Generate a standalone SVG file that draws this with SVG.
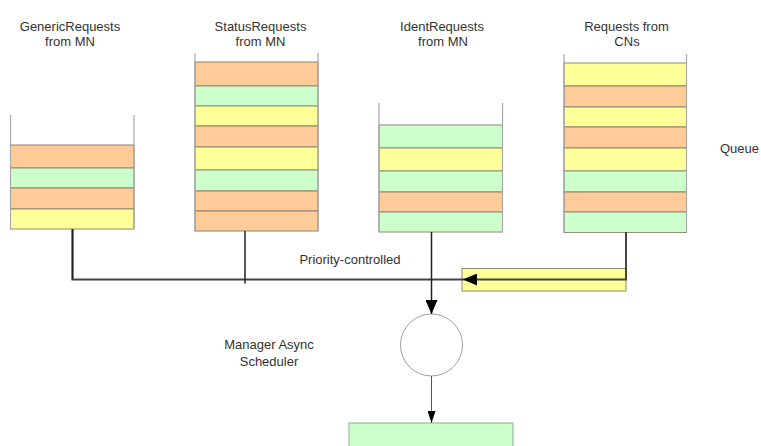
<svg xmlns="http://www.w3.org/2000/svg" width="761" height="446" viewBox="0 0 761 446">
  <style>
    .t { font-family: "Liberation Sans", Arial, sans-serif; font-size: 13px; fill: #333; }
    .wall { stroke: #a8a8a8; stroke-width: 1.2; fill: none; }
    .o { fill: #FFCC99; stroke: #8c8070; stroke-width: 1; }
    .g { fill: #CCFFCC; stroke: #8c8c80; stroke-width: 1; }
    .y { fill: #FFFF99; stroke: #8c8c70; stroke-width: 1; }
    .conn { stroke: #222; stroke-width: 1.5; fill: none; }
    .bus { stroke: #444; stroke-width: 2; fill: none; }
    .thin { stroke: #555; stroke-width: 1; fill: none; }
  </style>
  <defs>
    <marker id="ah" markerUnits="userSpaceOnUse" markerWidth="14" markerHeight="12" viewBox="0 0 14 12" refX="14" refY="6" orient="auto">
      <path d="M0,0 L14,6 L0,12 Z" fill="#000"/>
    </marker>
    <marker id="ahs" markerUnits="userSpaceOnUse" markerWidth="12" markerHeight="8" viewBox="0 0 12 8" refX="12" refY="4" orient="auto">
      <path d="M0,0 L12,4 L0,8 Z" fill="#000"/>
    </marker>
  </defs>
  <rect width="761" height="446" fill="#fff"/>

  <g id="queue-generic">
    <text class="t" x="70" y="30.5" text-anchor="middle">GenericRequests</text>
    <text class="t" x="70" y="46" text-anchor="middle">from MN</text>
    <rect class="o" x="10.5" y="145" width="123.5" height="23"/>
    <rect class="g" x="10.5" y="168" width="123.5" height="20"/>
    <rect class="o" x="10.5" y="188" width="123.5" height="21"/>
    <rect class="y" x="10.5" y="209" width="123.5" height="20"/>
    <path class="wall" d="M10.5,115 V229 M134,115 V229"/>
  </g>

  <g id="queue-status">
    <text class="t" x="260.5" y="30.5" text-anchor="middle">StatusRequests</text>
    <text class="t" x="260.5" y="46" text-anchor="middle">from MN</text>
    <rect class="o" x="195" y="62" width="123" height="24"/>
    <rect class="g" x="195" y="86" width="123" height="20"/>
    <rect class="y" x="195" y="106" width="123" height="20"/>
    <rect class="o" x="195" y="126" width="123" height="21"/>
    <rect class="y" x="195" y="147" width="123" height="23"/>
    <rect class="g" x="195" y="170" width="123" height="21"/>
    <rect class="o" x="195" y="191" width="123" height="20"/>
    <rect class="o" x="195" y="211" width="123" height="20"/>
    <path class="wall" d="M195,53 V231 M318,53 V231"/>
  </g>

  <g id="queue-ident">
    <text class="t" x="442" y="30.5" text-anchor="middle">IdentRequests</text>
    <text class="t" x="443" y="46" text-anchor="middle">from MN</text>
    <rect class="g" x="379" y="125" width="123.5" height="23"/>
    <rect class="y" x="379" y="148" width="123.5" height="23"/>
    <rect class="g" x="379" y="171" width="123.5" height="21"/>
    <rect class="o" x="379" y="192" width="123.5" height="20"/>
    <rect class="g" x="379" y="212" width="123.5" height="20"/>
    <path class="wall" d="M379,103 V232 M502.5,103 V232"/>
  </g>

  <g id="queue-cn">
    <text class="t" x="626.5" y="30.5" text-anchor="middle">Requests from</text>
    <text class="t" x="627" y="46" text-anchor="middle">CNs</text>
    <rect class="y" x="564" y="63" width="122.5" height="23"/>
    <rect class="o" x="564" y="86" width="122.5" height="21"/>
    <rect class="y" x="564" y="107" width="122.5" height="20"/>
    <rect class="o" x="564" y="127" width="122.5" height="21"/>
    <rect class="y" x="564" y="148" width="122.5" height="23"/>
    <rect class="g" x="564" y="171" width="122.5" height="21"/>
    <rect class="o" x="564" y="192" width="122.5" height="20"/>
    <rect class="g" x="564" y="212" width="122.5" height="20.5"/>
    <path class="wall" d="M564,54 V232.5 M686.5,54 V232.5"/>
  </g>

  <g id="queue-label">
    <text class="t" x="720" y="153">Queue</text>
  </g>

  <g id="priority-box">
    <rect class="y" x="462" y="268.5" width="164" height="22.5" stroke="#b0b080"/>
  </g>

  <g id="priority-label">
    <text class="t" x="350" y="264" text-anchor="middle">Priority-controlled</text>
  </g>

  <g id="scheduler">
    <circle cx="431.5" cy="345" r="31" fill="#fff" stroke="#a0a0a0" stroke-width="1"/>
    <text class="t" x="269" y="349" text-anchor="middle">Manager Async</text>
    <text class="t" x="269" y="366" text-anchor="middle">Scheduler</text>
  </g>

  <g id="output">
    <rect x="349" y="423" width="164" height="26" fill="#CCFFCC" stroke="#90a890" stroke-width="1"/>
  </g>

  <g id="connectors">
    <path class="bus" d="M72.5,229 V279.5 H463"/>
    <path class="conn" d="M72.5,229 V279.5"/>
    <path class="conn" d="M245,231 V283.5"/>
    <path class="bus" d="M626,232 V279.5 H463" marker-end="url(#ah)"/>
    <path class="conn" d="M431.5,232 V314" marker-end="url(#ah)"/>
    <path class="thin" d="M431.5,376 V423" marker-end="url(#ahs)"/>
  </g>
</svg>
